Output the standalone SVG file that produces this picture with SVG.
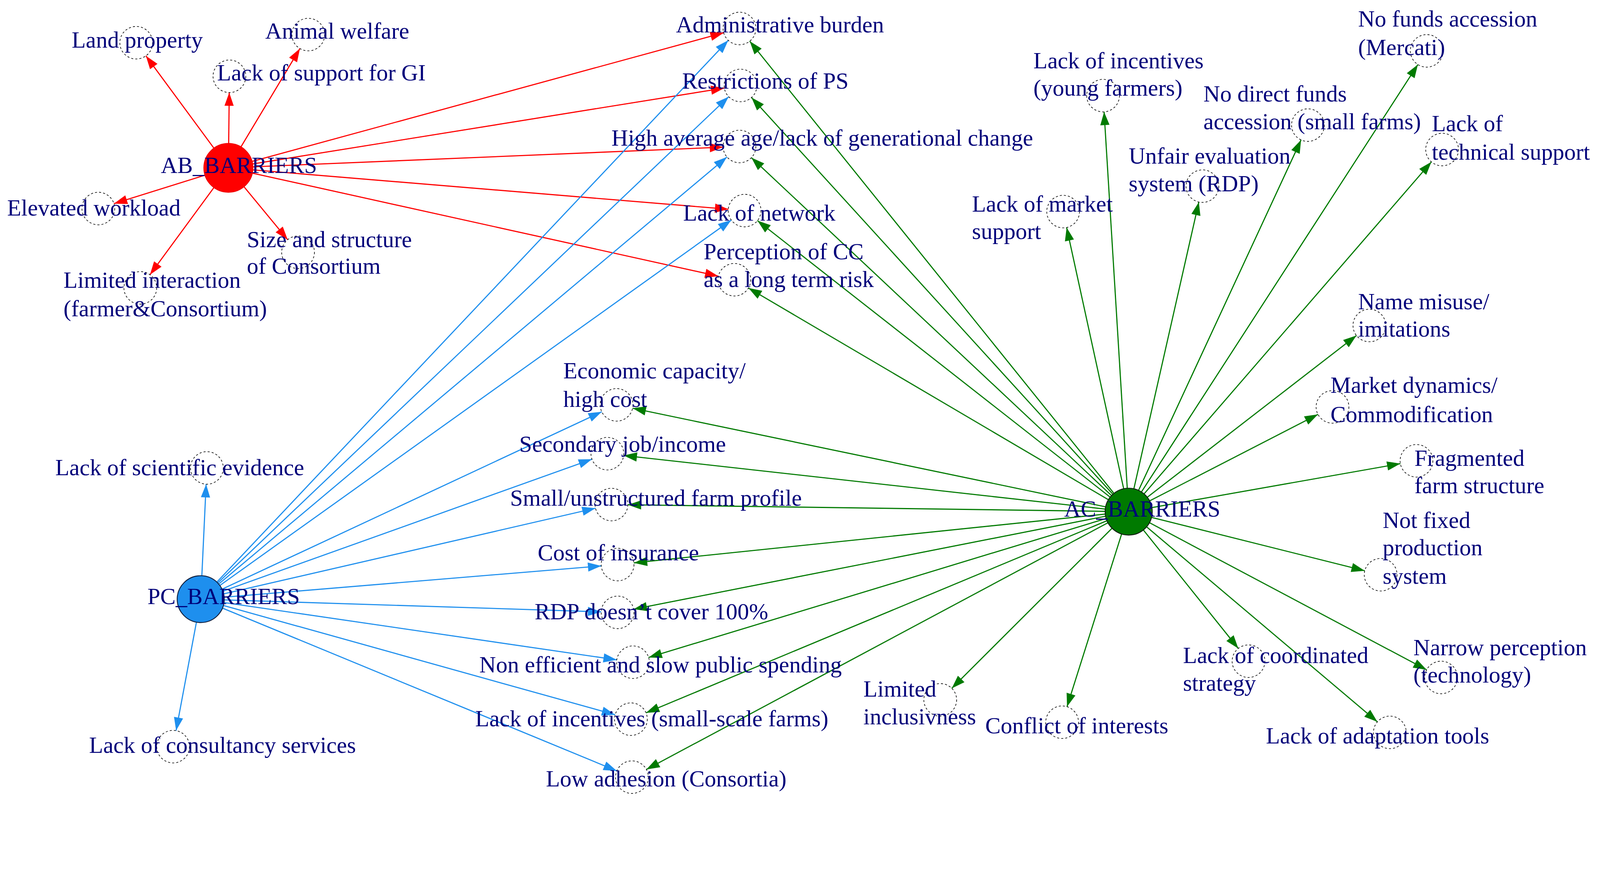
<svg xmlns="http://www.w3.org/2000/svg" width="4404" height="2228" viewBox="0 0 4404 2228">
<style>
text{font-family:"Liberation Serif","Times New Roman",serif;font-size:22.5px;fill:#00007a}
.n{fill:#fff;stroke:#000;stroke-width:0.6;stroke-dasharray:2,2}
.r{stroke:#f00;stroke-width:1.1;fill:none}
.b{stroke:#1e8fee;stroke-width:1.1;fill:none}
.g{stroke:#007a00;stroke-width:1.1;fill:none}
</style>
<defs>
<marker id="mr" markerUnits="userSpaceOnUse" orient="auto" refX="0" refY="0" markerWidth="1" markerHeight="1" style="overflow:visible"><path d="M-16,0 L-29,-4.5 L-29,4.5 Z" fill="#f00"/></marker>
<marker id="mb" markerUnits="userSpaceOnUse" orient="auto" refX="0" refY="0" markerWidth="1" markerHeight="1" style="overflow:visible"><path d="M-16,0 L-29,-4.5 L-29,4.5 Z" fill="#1e8fee"/></marker>
<marker id="mg" markerUnits="userSpaceOnUse" orient="auto" refX="0" refY="0" markerWidth="1" markerHeight="1" style="overflow:visible"><path d="M-16,0 L-29,-4.5 L-29,4.5 Z" fill="#007a00"/></marker>
</defs>
<rect width="4404" height="2228" fill="#fff"/>
<g transform="scale(2.622,2.605)">
<g id="connectors">
<g class="r" marker-end="url(#mr)">
<line x1="223" y1="165" x2="133" y2="42"/><line x1="223" y1="165" x2="301" y2="34"/><line x1="223" y1="165" x2="224" y2="75"/><line x1="223" y1="165" x2="96" y2="205"/><line x1="223" y1="165" x2="291" y2="248"/><line x1="223" y1="165" x2="137" y2="283"/><line x1="223" y1="165" x2="722" y2="28"/><line x1="223" y1="165" x2="723" y2="84"/><line x1="223" y1="165" x2="722" y2="144"/><line x1="223" y1="165" x2="727" y2="207"/><line x1="223" y1="165" x2="717" y2="275"/>
</g>
<g class="b" marker-end="url(#mb)">
<line x1="196" y1="589" x2="202" y2="460"/><line x1="196" y1="589" x2="169" y2="734"/><line x1="196" y1="589" x2="722" y2="28"/><line x1="196" y1="589" x2="723" y2="84"/><line x1="196" y1="589" x2="722" y2="144"/><line x1="196" y1="589" x2="727" y2="207"/><line x1="196" y1="589" x2="602" y2="398"/><line x1="196" y1="589" x2="593" y2="446"/><line x1="196" y1="589" x2="597" y2="496"/><line x1="196" y1="589" x2="603" y2="555"/><line x1="196" y1="589" x2="603" y2="602"/><line x1="196" y1="589" x2="618" y2="651"/><line x1="196" y1="589" x2="616" y2="707"/><line x1="196" y1="589" x2="617" y2="764"/>
</g>
<g class="g" marker-end="url(#mg)">
<line x1="1102" y1="503" x2="722" y2="28"/><line x1="1102" y1="503" x2="723" y2="84"/><line x1="1102" y1="503" x2="722" y2="144"/><line x1="1102" y1="503" x2="727" y2="207"/><line x1="1102" y1="503" x2="717" y2="275"/><line x1="1102" y1="503" x2="602" y2="398"/><line x1="1102" y1="503" x2="593" y2="446"/><line x1="1102" y1="503" x2="597" y2="496"/><line x1="1102" y1="503" x2="603" y2="555"/><line x1="1102" y1="503" x2="603" y2="602"/><line x1="1102" y1="503" x2="618" y2="651"/><line x1="1102" y1="503" x2="616" y2="707"/><line x1="1102" y1="503" x2="617" y2="764"/><line x1="1102" y1="503" x2="1393" y2="50"/><line x1="1102" y1="503" x2="1077" y2="94"/><line x1="1102" y1="503" x2="1277" y2="123"/><line x1="1102" y1="503" x2="1408" y2="147"/><line x1="1102" y1="503" x2="1174" y2="183"/><line x1="1102" y1="503" x2="1038" y2="208"/><line x1="1102" y1="503" x2="1337" y2="320"/><line x1="1102" y1="503" x2="1301" y2="400"/><line x1="1102" y1="503" x2="1383" y2="453"/><line x1="1102" y1="503" x2="1348" y2="565"/><line x1="1102" y1="503" x2="1407" y2="666"/><line x1="1102" y1="503" x2="1357" y2="720"/><line x1="1102" y1="503" x2="1219" y2="650"/><line x1="1102" y1="503" x2="1037" y2="710"/><line x1="1102" y1="503" x2="918" y2="688"/>
</g>
</g>
<g id="hub-ab"><circle cx="223" cy="165" r="24" fill="#f00" stroke="#e00" stroke-width="0.8"/><text x="157" y="170">AB_BARRIERS</text></g>
<g id="hub-pc"><circle cx="196" cy="589" r="23" fill="#1e8fee" stroke="#102040" stroke-width="0.9"/><text x="144" y="594">PC_BARRIERS</text></g>
<g id="hub-ac"><circle cx="1102" cy="503" r="23" fill="#007a00" stroke="#102010" stroke-width="0.9"/><text x="1039" y="508">AC_BARRIERS</text></g>
<g id="n1"><circle class="n" cx="133" cy="42" r="16"/><text x="70" y="47">Land property</text></g>
<g id="n2"><circle class="n" cx="301" cy="34" r="16"/><text x="259" y="38">Animal welfare</text></g>
<g id="n3"><circle class="n" cx="224" cy="75" r="16"/><text x="212" y="79">Lack of support for GI</text></g>
<g id="n4"><circle class="n" cx="96" cy="205" r="16"/><text x="7" y="212">Elevated workload</text></g>
<g id="n5"><circle class="n" cx="291" cy="248" r="16"/><text x="241" y="243">Size and structure</text><text x="241" y="269">of Consortium</text></g>
<g id="n6"><circle class="n" cx="137" cy="283" r="16"/><text x="62" y="283">Limited interaction</text><text x="62" y="311">(farmer&amp;Consortium)</text></g>
<g id="n7"><circle class="n" cx="722" cy="28" r="16"/><text x="660" y="32">Administrative burden</text></g>
<g id="n8"><circle class="n" cx="723" cy="84" r="16"/><text x="666" y="87">Restrictions of PS</text></g>
<g id="n9"><circle class="n" cx="722" cy="144" r="16"/><text x="597" y="143">High average age/lack of generational change</text></g>
<g id="n10"><circle class="n" cx="727" cy="207" r="16"/><text x="667" y="217">Lack of network</text></g>
<g id="n11"><circle class="n" cx="717" cy="275" r="16"/><text x="687" y="255">Perception of CC</text><text x="687" y="282">as a long term risk</text></g>
<g id="n12"><circle class="n" cx="602" cy="398" r="16"/><text x="550" y="372">Economic capacity/</text><text x="550" y="400">high cost</text></g>
<g id="n13"><circle class="n" cx="593" cy="446" r="16"/><text x="507" y="444">Secondary job/income</text></g>
<g id="n14"><circle class="n" cx="597" cy="496" r="16"/><text x="498" y="497">Small/unstructured farm profile</text></g>
<g id="n15"><circle class="n" cx="603" cy="555" r="16"/><text x="525" y="551">Cost of insurance</text></g>
<g id="n16"><circle class="n" cx="603" cy="602" r="16"/><text x="522" y="609">RDP doesn’t cover 100%</text></g>
<g id="n17"><circle class="n" cx="618" cy="651" r="16"/><text x="468" y="661">Non efficient and slow public spending</text></g>
<g id="n18"><circle class="n" cx="616" cy="707" r="16"/><text x="464" y="714">Lack of incentives (small-scale farms)</text></g>
<g id="n19"><circle class="n" cx="617" cy="764" r="16"/><text x="533" y="773">Low adhesion (Consortia)</text></g>
<g id="n20"><circle class="n" cx="202" cy="460" r="16"/><text x="54" y="467">Lack of scientific evidence</text></g>
<g id="n21"><circle class="n" cx="169" cy="734" r="16"/><text x="87" y="740">Lack of consultancy services</text></g>
<g id="n22"><circle class="n" cx="1393" cy="50" r="16"/><text x="1326" y="26">No funds accession</text><text x="1326" y="54">(Mercati)</text></g>
<g id="n23"><circle class="n" cx="1077" cy="94" r="16"/><text x="1009" y="67">Lack of incentives</text><text x="1009" y="94">(young farmers)</text></g>
<g id="n24"><circle class="n" cx="1277" cy="123" r="16"/><text x="1175" y="100">No direct funds</text><text x="1175" y="127">accession (small farms)</text></g>
<g id="n25"><circle class="n" cx="1408" cy="147" r="16"/><text x="1398" y="129">Lack of</text><text x="1398" y="157">technical support</text></g>
<g id="n26"><circle class="n" cx="1174" cy="183" r="16"/><text x="1102" y="161">Unfair evaluation</text><text x="1102" y="188">system (RDP)</text></g>
<g id="n27"><circle class="n" cx="1038" cy="208" r="16"/><text x="949" y="208">Lack of market</text><text x="949" y="235">support</text></g>
<g id="n28"><circle class="n" cx="1337" cy="320" r="16"/><text x="1326" y="304">Name misuse/</text><text x="1326" y="331">imitations</text></g>
<g id="n29"><circle class="n" cx="1301" cy="400" r="16"/><text x="1299" y="386">Market dynamics/</text><text x="1299" y="415">Commodification</text></g>
<g id="n30"><circle class="n" cx="1383" cy="453" r="16"/><text x="1381" y="458">Fragmented</text><text x="1381" y="485">farm structure</text></g>
<g id="n31"><circle class="n" cx="1348" cy="565" r="16"/><text x="1350" y="519">Not fixed</text><text x="1350" y="546">production</text><text x="1350" y="574">system</text></g>
<g id="n32"><circle class="n" cx="1407" cy="666" r="16"/><text x="1380" y="644">Narrow perception</text><text x="1380" y="671">(technology)</text></g>
<g id="n33"><circle class="n" cx="1357" cy="720" r="16"/><text x="1236" y="731">Lack of adaptation tools</text></g>
<g id="n34"><circle class="n" cx="1219" cy="650" r="16"/><text x="1155" y="652">Lack of coordinated</text><text x="1155" y="679">strategy</text></g>
<g id="n35"><circle class="n" cx="1037" cy="710" r="16"/><text x="962" y="721">Conflict of interests</text></g>
<g id="n36"><circle class="n" cx="918" cy="688" r="16"/><text x="843" y="685">Limited</text><text x="843" y="712">inclusivness</text></g>
</g>
</svg>
